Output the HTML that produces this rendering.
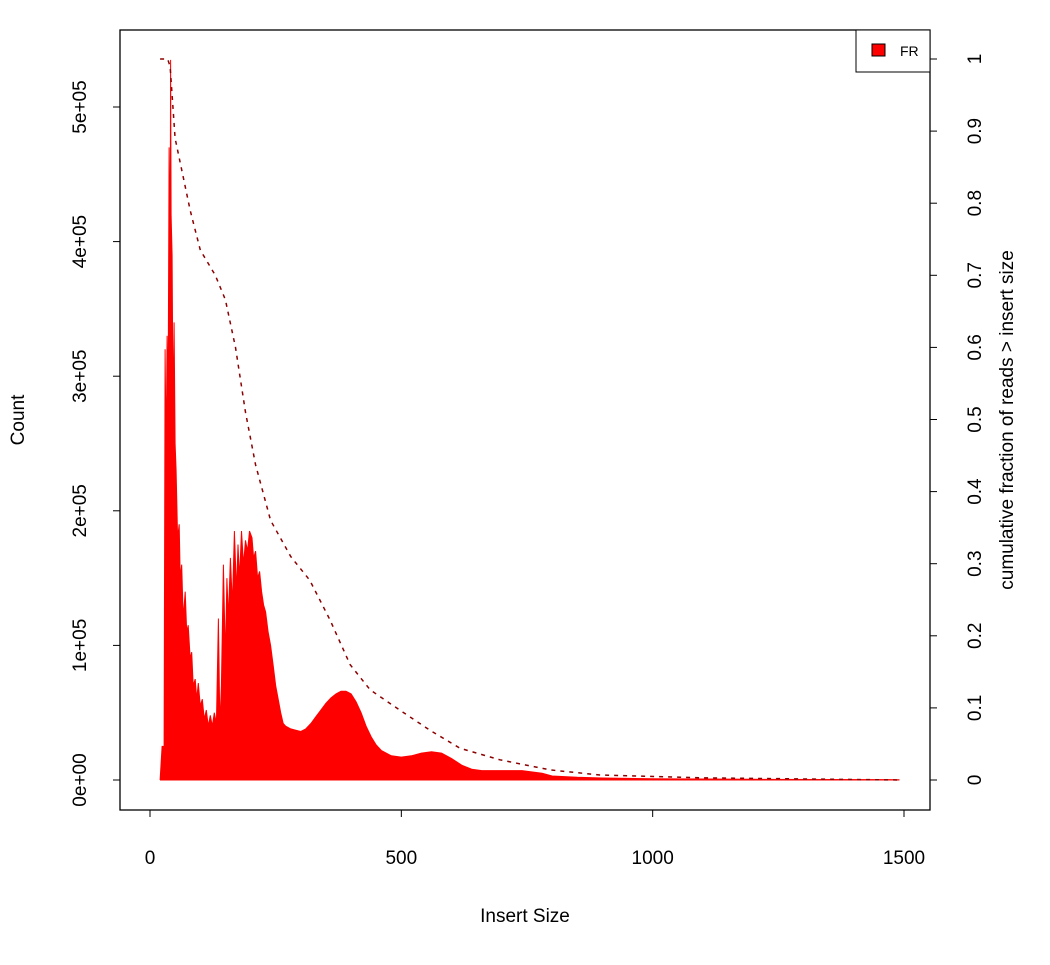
<!DOCTYPE html>
<html><head><meta charset="utf-8"><style>
body{margin:0;background:#fff}
text{font-family:"Liberation Sans",sans-serif;fill:#000}
</style></head><body>
<svg id="chart" width="1050" height="960" xmlns="http://www.w3.org/2000/svg">
<rect x="120" y="30" width="810" height="780" fill="none" stroke="#000" stroke-width="1.3"/>
<g id="bars"></g>
<g id="cum"></g>
<g id="axes"></g>
<text x="525" y="922" font-size="19" text-anchor="middle">Insert Size</text>
<text transform="translate(24,420) rotate(-90)" font-size="19" text-anchor="middle">Count</text>
<text transform="translate(1013,420) rotate(-90)" font-size="19" text-anchor="middle">cumulative fraction of reads &gt; insert size</text>
<g>
<rect x="856" y="30" width="74" height="42" fill="#fff" stroke="#000" stroke-width="1"/>
<rect x="872" y="44" width="13" height="12" fill="#ff0000" stroke="#000" stroke-width="1"/>
<text x="900" y="56" font-size="14">FR</text>
</g>
</svg>
<script>
const sizes=[20,24,28,30,32,34,36,38,40,41,42,44,46,48,50,52,55,58,60,63,66,70,73,76,80,83,86,90,93,96,100,104,108,112,116,120,124,128,132,136,139,142,146,150,153,156,160,164,168,172,175,178,182,186,190,194,198,203,206,210,214,218,222,226,230,235,240,245,250,255,260,265,270,280,290,300,310,320,330,340,350,360,370,380,390,400,410,420,430,440,450,460,480,500,520,540,560,580,600,620,640,660,700,740,780,800,850,900,1000,1200,1490];
const counts=[0,25000,25000,320000,240000,330000,280000,470000,380000,535000,420000,390000,270000,340000,250000,230000,180000,190000,150000,160000,120000,140000,110000,115000,90000,95000,70000,75000,60000,72000,55000,60000,45000,52000,40000,48000,40000,50000,42000,120000,40000,70000,160000,90000,150000,120000,165000,130000,185000,140000,175000,150000,185000,160000,178000,170000,185000,180000,165000,170000,150000,155000,140000,130000,125000,110000,100000,85000,70000,60000,50000,42000,40000,38000,37000,36000,38000,42000,47000,52000,57000,61000,64000,66000,66000,64000,58000,50000,40000,32000,26000,22000,18000,17000,18000,20000,21000,20000,16000,11000,8000,7000,7000,7000,5000,3000,2000,1500,1000,500,200];
const cumSizes=[20,35,40,50,80,100,130,150,170,190,210,240,280,318,358,398,438,497,557,617,696,796,895,1094,1490];
const cumFrac=[1,1,0.99,0.89,0.79,0.735,0.70,0.666,0.60,0.51,0.437,0.36,0.31,0.277,0.222,0.16,0.125,0.097,0.069,0.044,0.028,0.014,0.007,0.003,0];
const xTicks=[0,500,1000,1500];
const yTicks=[0,100000,200000,300000,400000,500000];
const yTickLabels=["0e+00","1e+05","2e+05","3e+05","4e+05","5e+05"];
const rTicks=[0,0.1,0.2,0.3,0.4,0.5,0.6,0.7,0.8,0.9,1];
const rTickLabels=["0","0.1","0.2","0.3","0.4","0.5","0.6","0.7","0.8","0.9","1"];
const NS="http://www.w3.org/2000/svg";
const xs=v=>150+v*0.50267;
const ys=v=>780-v*0.001346;
const rs=v=>780-v*721;
function mk(t,a,p){const e=document.createElementNS(NS,t);for(const k in a)e.setAttribute(k,a[k]);p.appendChild(e);return e;}
const bars=document.getElementById('bars');
let d="M"+xs(sizes[0])+","+ys(0);
for(let i=0;i<sizes.length;i++)d+=" L"+xs(sizes[i]).toFixed(1)+","+ys(counts[i]).toFixed(1);
d+=" L"+xs(sizes[sizes.length-1])+","+ys(0)+" Z";
const area=mk('path',{d:d,fill:'#ff0000',stroke:'#ff0000','stroke-width':1},bars);


const cum=document.getElementById('cum');
let c="";
for(let i=0;i<cumSizes.length;i++)c+=(i?" L":"M")+xs(cumSizes[i]).toFixed(1)+","+rs(cumFrac[i]).toFixed(1);
const cl=mk('path',{d:c,fill:'none',stroke:'#8b0000','stroke-width':1.5,'stroke-dasharray':'4,5'},cum);


const ax=document.getElementById('axes');
mk('line',{x1:xs(0),x2:xs(1500),y1:810,y2:810,stroke:'#000'},ax);
xTicks.forEach(t=>{
 const l=mk('line',{x1:xs(t),x2:xs(t),y1:810,y2:817,stroke:'#000'},ax);
 
 
 const tx=mk('text',{x:xs(t),y:864,'font-size':19,'text-anchor':'middle'},ax);tx.textContent=t;
 
 
});
yTicks.forEach((t,i)=>{
 const l=mk('line',{x1:113,x2:120,y1:ys(t),y2:ys(t),stroke:'#000'},ax);
 
 
 const tx=mk('text',{transform:`translate(86,${ys(t)}) rotate(-90)`,'font-size':19,'text-anchor':'middle'},ax);tx.textContent=yTickLabels[i];
 
 
});
rTicks.forEach((t,i)=>{
 const l=mk('line',{x1:930,x2:937,y1:rs(t),y2:rs(t),stroke:'#000'},ax);
 
 
 const tx=mk('text',{transform:`translate(981,${rs(t)}) rotate(-90)`,'font-size':19,'text-anchor':'middle'},ax);tx.textContent=rTickLabels[i];
 
 
});
</script>
</body></html>
